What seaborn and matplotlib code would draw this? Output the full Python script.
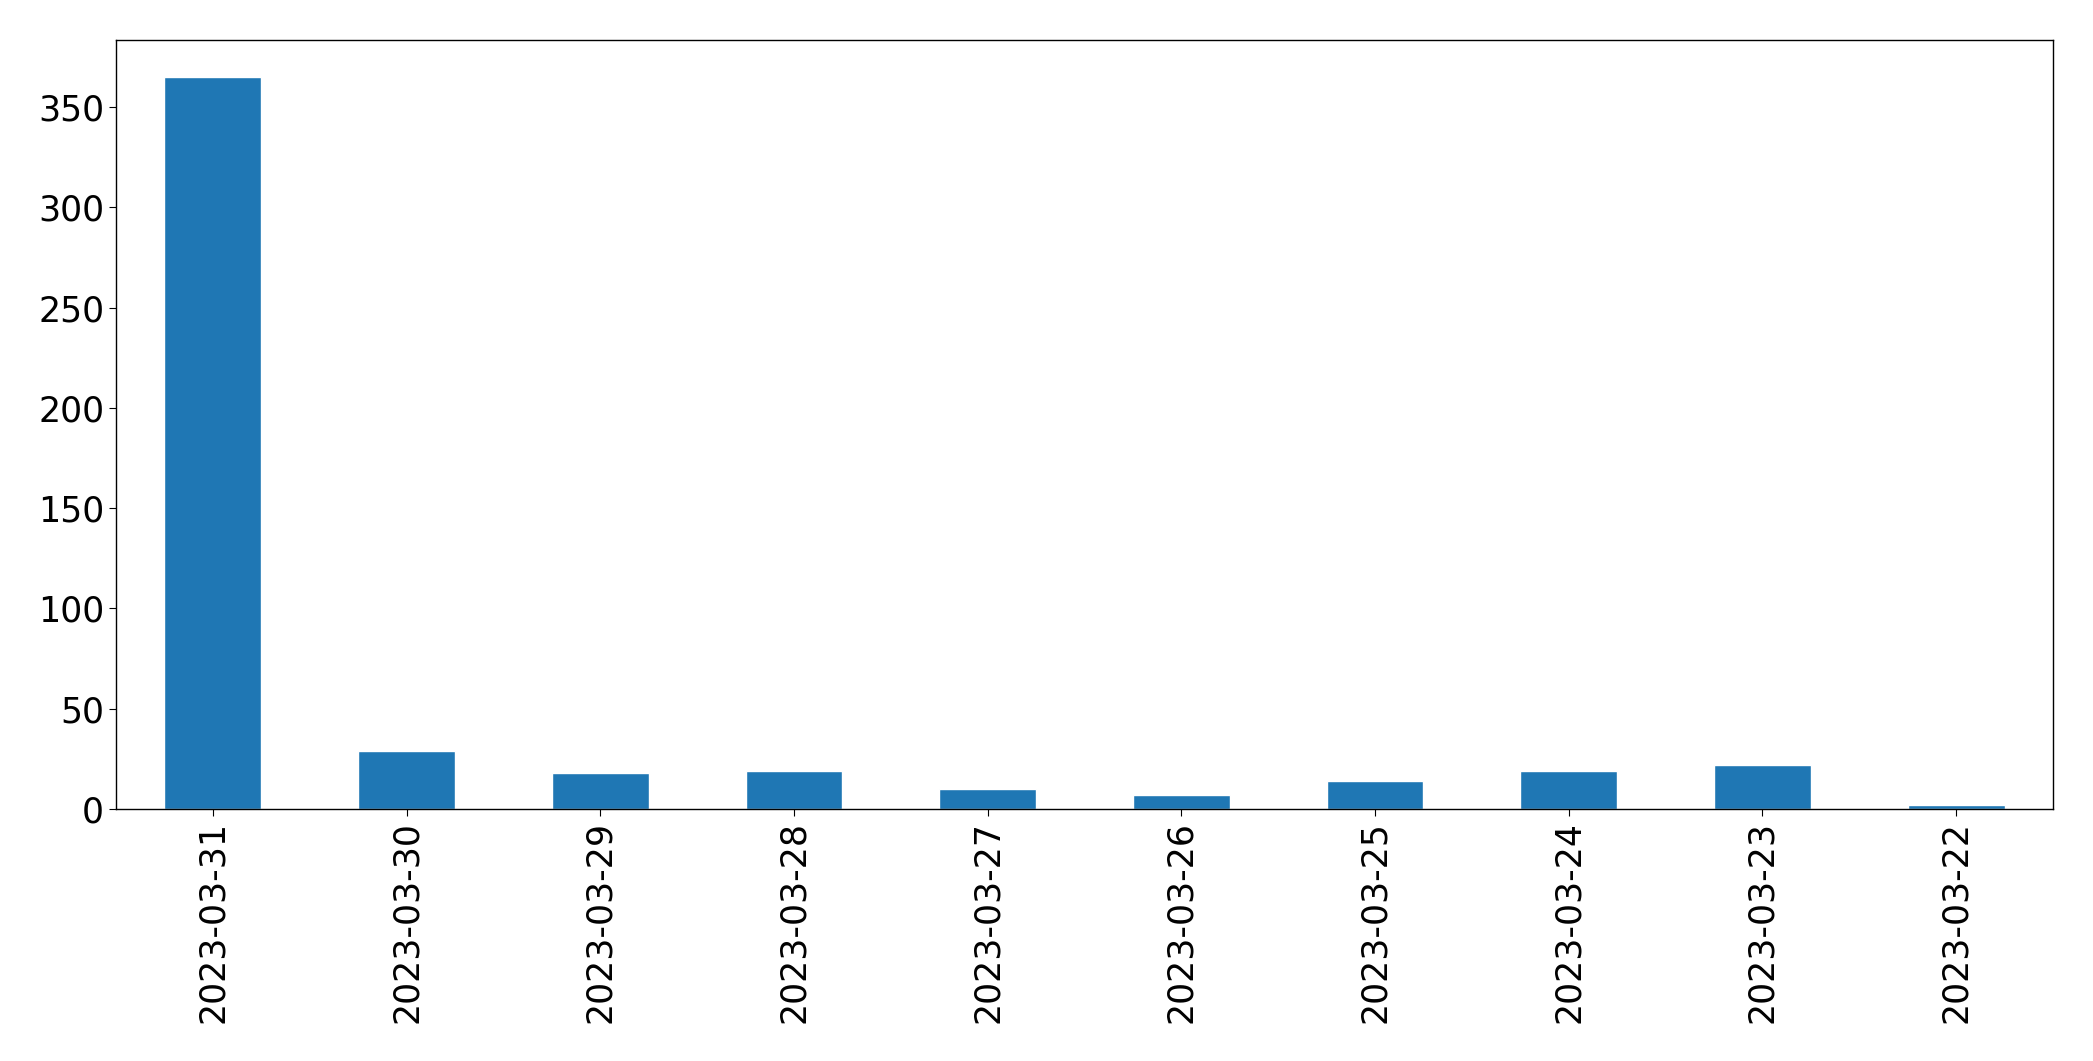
import pandas as pd
import matplotlib
matplotlib.use("Agg")
import matplotlib.pyplot as plt
import seaborn as sns

# === DATA ===
dates = ["2023-03-31", "2023-03-30", "2023-03-29", "2023-03-28", "2023-03-27",
         "2023-03-26", "2023-03-25", "2023-03-24", "2023-03-23", "2023-03-22"]
counts = [365, 29, 18, 19, 10, 7, 14, 19, 22, 2]

df = pd.DataFrame({"date": dates, "count": counts})

sns.set_style("ticks", {"axes.edgecolor": "black", "xtick.color": "black",
                        "ytick.color": "black", "text.color": "black"})
plt.rcParams["font.family"] = ["DejaVu Sans"]

fig = plt.figure(figsize=(20.93, 10.61), dpi=100)
ax = fig.add_axes([0.0554, 0.2375, 0.9255, 0.7245])

sns.barplot(data=df, x="date", y="count", order=dates, color="#1f77b4",
            saturation=1, width=0.5, ax=ax)

ax.set_xlim(-0.5, len(dates) - 0.5)
ax.set_ylim(0, max(counts) * 1.05)
ax.set_xlabel("")
ax.set_ylabel("")
ax.tick_params(axis="both", labelsize=25, length=5)
ax.tick_params(axis="x", labelrotation=90)
for s in ax.spines.values():
    s.set_visible(True)
    s.set_linewidth(1)

fig.savefig("out.png", dpi=100)
